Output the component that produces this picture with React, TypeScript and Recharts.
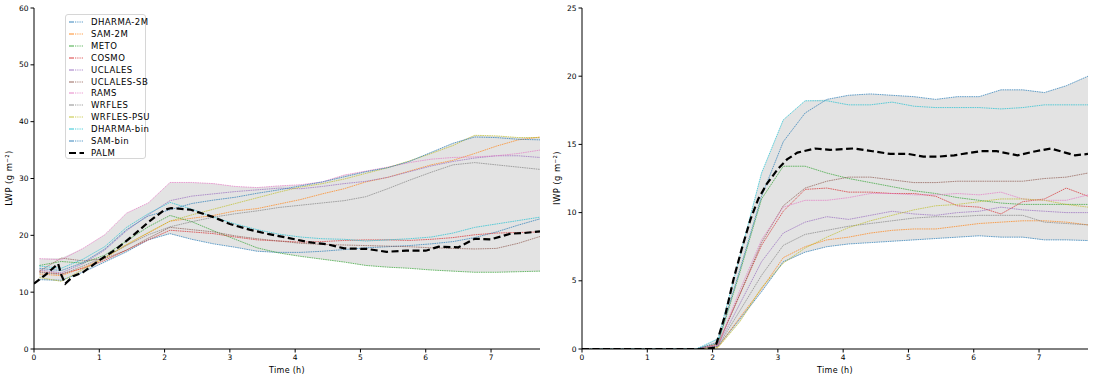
import React from 'react';
import { ComposedChart, Line, Area, XAxis, YAxis } from 'recharts';

const TIMES = [0.083, 0.417, 0.75, 1.083, 1.417, 1.75, 2.083, 2.417, 2.75, 3.083, 3.417, 3.75, 4.083, 4.417, 4.75, 5.083, 5.417, 5.75, 6.083, 6.417, 6.75, 7.083, 7.417, 7.75];

const MODELS = ['DHARMA-2M', 'SAM-2M', 'METO', 'COSMO', 'UCLALES', 'UCLALES-SB', 'RAMS', 'WRFLES', 'WRFLES-PSU', 'DHARMA-bin', 'SAM-bin'];
const COLORS = ['#1f77b4', '#ff7f0e', '#2ca02c', '#d62728', '#9467bd', '#8c564b', '#e377c2', '#7f7f7f', '#bcbd22', '#17becf', '#1f77b4'];

// LWP (g m-2)
const LWP_DHARMA_2M = [12.2, 12.1, 13.5, 15.3, 17.1, 19.2, 20.3, 19.3, 18.5, 17.9, 17.2, 17.0, 17.0, 17.2, 17.5, 17.8, 18.0, 18.2, 18.5, 18.9, 19.6, 20.6, 21.8, 22.9];
const LWP_SAM_2M = [13.2, 12.9, 14.3, 16.0, 18.3, 20.4, 22.5, 23.0, 23.5, 24.3, 24.7, 25.5, 26.3, 27.3, 28.2, 29.4, 30.2, 31.3, 32.4, 33.2, 34.4, 35.7, 36.8, 37.3];
const LWP_METO = [14.7, 15.4, 15.1, 16.5, 19.0, 21.5, 23.5, 22.4, 20.8, 19.3, 17.8, 16.9, 16.3, 15.8, 15.3, 14.7, 14.4, 14.2, 13.9, 13.7, 13.5, 13.5, 13.6, 13.7];
const LWP_COSMO = [13.6, 13.2, 14.2, 15.6, 17.4, 19.2, 20.9, 20.6, 20.3, 19.7, 19.2, 19.0, 18.8, 18.9, 19.1, 19.2, 19.2, 19.1, 19.3, 19.6, 20.1, 20.4, 20.5, 20.6];
const LWP_UCLALES = [13.9, 13.4, 15.0, 17.4, 20.8, 23.6, 26.1, 26.9, 27.3, 27.7, 28.0, 28.3, 28.2, 28.6, 29.1, 29.5, 30.2, 31.2, 32.2, 33.0, 33.6, 34.0, 34.0, 33.7];
const LWP_UCLALES_SB = [13.7, 16.0, 15.5, 15.9, 17.4, 19.5, 21.4, 21.0, 20.6, 19.9, 19.4, 19.0, 18.6, 18.4, 18.3, 18.2, 18.1, 18.0, 17.8, 17.7, 17.6, 17.7, 18.6, 19.8];
const LWP_RAMS = [15.9, 15.7, 17.7, 20.1, 23.9, 25.7, 29.3, 29.3, 29.1, 28.6, 28.4, 28.7, 28.9, 29.4, 30.6, 31.3, 32.0, 32.8, 33.4, 33.7, 33.8, 34.0, 34.4, 35.0];
const LWP_WRFLES = [13.5, 13.1, 14.6, 16.2, 18.2, 20.1, 21.5, 22.4, 23.2, 23.8, 24.3, 24.9, 25.3, 25.7, 26.1, 26.8, 28.2, 29.7, 31.1, 32.4, 32.8, 32.4, 32.0, 31.6];
const LWP_WRFLES_PSU = [12.6, 11.9, 14.0, 16.0, 18.4, 20.5, 22.5, 23.6, 24.6, 25.6, 26.6, 27.6, 28.5, 29.1, 29.9, 30.9, 31.9, 33.1, 34.4, 35.8, 37.6, 37.5, 37.2, 37.2];
const LWP_DHARMA_BIN = [14.6, 14.2, 15.8, 18.0, 21.4, 23.8, 25.8, 24.6, 23.2, 22.0, 21.0, 20.2, 19.7, 19.4, 19.3, 19.0, 19.2, 19.4, 19.7, 20.4, 21.4, 22.0, 22.6, 23.2];
const LWP_SAM_BIN = [14.2, 13.8, 15.2, 17.6, 21.0, 23.4, 24.5, 25.6, 26.2, 26.7, 27.4, 28.0, 28.7, 29.4, 30.3, 31.2, 31.9, 33.0, 34.6, 36.2, 37.3, 37.2, 36.9, 36.8];

const PALM_LWP_T = [0, 0.17, 0.37, 0.42, 0.48, 0.6, 0.75, 1.0, 1.25, 1.5, 1.75, 2.0, 2.1, 2.4, 2.75, 3.0, 3.3, 3.6, 4.0, 4.2, 4.5, 4.75, 5.1, 5.4, 5.7, 6.0, 6.2, 6.5, 6.75, 7.0, 7.3, 7.5, 7.75];
const PALM_LWP_V = [11.5, 13.0, 15.0, 13.0, 11.5, 12.8, 13.5, 15.6, 17.5, 19.8, 22.3, 24.5, 24.8, 24.5, 23.2, 22.0, 21.0, 20.2, 19.3, 18.8, 18.4, 17.7, 17.6, 17.1, 17.3, 17.3, 18.0, 17.9, 19.4, 19.3, 20.3, 20.4, 20.7];

// IWP (g m-2)
const IWP_DHARMA_2M = [0, 0, 0, 0, 0, 0, 0.2, 2.2, 4.2, 6.4, 7.1, 7.5, 7.7, 7.8, 7.9, 8.0, 8.1, 8.2, 8.3, 8.2, 8.2, 8.0, 8.0, 7.95];
const IWP_SAM_2M = [0, 0, 0, 0, 0, 0, 0.15, 2.3, 4.4, 6.7, 7.5, 8.0, 8.2, 8.5, 8.7, 8.8, 8.8, 9.0, 9.2, 9.3, 9.4, 9.4, 9.3, 9.1];
const IWP_METO = [0, 0, 0, 0, 0, 0, 0.4, 5.6, 11.0, 13.4, 13.4, 12.9, 12.5, 12.2, 11.9, 11.6, 11.4, 11.1, 10.9, 10.7, 10.6, 10.6, 10.6, 10.6];
const IWP_COSMO = [0, 0, 0, 0, 0, 0, 0.35, 4.0, 7.6, 10.1, 11.7, 11.8, 11.5, 11.5, 11.4, 11.4, 11.2, 10.5, 10.4, 9.9, 10.8, 11.0, 11.8, 11.2];
const IWP_UCLALES = [0, 0, 0, 0, 0, 0, 0.25, 3.3, 6.4, 8.5, 9.3, 9.7, 9.5, 9.8, 10.1, 9.9, 9.8, 10.0, 10.1, 10.4, 10.2, 10.1, 10.0, 10.0];
const IWP_UCLALES_SB = [0, 0, 0, 0, 0, 0, 0.3, 4.0, 7.8, 10.5, 11.8, 12.3, 12.6, 12.6, 12.4, 12.2, 12.2, 12.3, 12.3, 12.3, 12.3, 12.5, 12.6, 12.9];
const IWP_RAMS = [0, 0, 0, 0, 0, 0, 0.3, 4.3, 8.0, 10.4, 10.9, 10.9, 11.1, 11.4, 11.4, 11.3, 11.3, 11.4, 11.3, 11.5, 11.0, 10.9, 10.9, 11.3];
const IWP_WRFLES = [0, 0, 0, 0, 0, 0, 0.2, 2.8, 5.4, 7.6, 8.4, 8.7, 9.0, 9.2, 9.4, 9.6, 9.7, 9.7, 9.8, 9.8, 9.8, 9.3, 9.2, 9.1];
const IWP_WRFLES_PSU = [0, 0, 0, 0, 0, 0, 0.1, 2.0, 4.5, 6.3, 7.4, 8.2, 8.9, 9.4, 9.8, 10.2, 10.5, 10.6, 10.8, 11.0, 11.0, 10.9, 10.6, 10.4];
const IWP_DHARMA_BIN = [0, 0, 0, 0, 0, 0, 0.75, 6.8, 12.9, 16.8, 18.2, 18.2, 17.9, 17.9, 18.1, 17.8, 17.7, 17.7, 17.7, 17.6, 17.7, 17.9, 17.9, 17.9];
const IWP_SAM_BIN = [0, 0, 0, 0, 0, 0, 0.5, 5.8, 11.2, 15.2, 17.3, 18.3, 18.6, 18.7, 18.6, 18.5, 18.3, 18.5, 18.5, 19.0, 19.0, 18.8, 19.3, 20.0];

const PALM_IWP_T = [0, 1.0, 1.9, 2.04, 2.2, 2.32, 2.45, 2.58, 2.7, 2.83, 3.0, 3.14, 3.3, 3.57, 3.8, 4.16, 4.45, 4.72, 5.0, 5.23, 5.45, 5.7, 6.1, 6.35, 6.67, 6.95, 7.18, 7.4, 7.55, 7.75];
const PALM_IWP_V = [0, 0, 0, 0.1, 2.6, 5.1, 7.4, 9.5, 11.0, 12.1, 13.2, 13.9, 14.4, 14.7, 14.6, 14.7, 14.5, 14.3, 14.3, 14.1, 14.1, 14.2, 14.5, 14.5, 14.2, 14.5, 14.7, 14.4, 14.2, 14.3];

const X_TICKS = [0, 1, 2, 3, 4, 5, 6, 7];
const LWP_TICKS = [0, 10, 20, 30, 40, 50, 60];
const IWP_TICKS = [0, 5, 10, 15, 20, 25];

const LWP_SERIES = [LWP_DHARMA_2M, LWP_SAM_2M, LWP_METO, LWP_COSMO, LWP_UCLALES, LWP_UCLALES_SB, LWP_RAMS, LWP_WRFLES, LWP_WRFLES_PSU, LWP_DHARMA_BIN, LWP_SAM_BIN];
const IWP_SERIES = [IWP_DHARMA_2M, IWP_SAM_2M, IWP_METO, IWP_COSMO, IWP_UCLALES, IWP_UCLALES_SB, IWP_RAMS, IWP_WRFLES, IWP_WRFLES_PSU, IWP_DHARMA_BIN, IWP_SAM_BIN];

function buildRows(series: number[][]) {
  return TIMES.map((t, i) => {
    const row: any = { t };
    const vals = series.map((s) => s[i]);
    series.forEach((s, k) => { row['m' + k] = s[i]; });
    row.band = [Math.min(...vals), Math.max(...vals)];
    return row;
  });
}

function buildPalm(ts: number[], vs: number[]) {
  return ts.map((t, i) => ({ t, v: vs[i] }));
}

const FONT = 'DejaVu Sans, sans-serif';
const tickStyle = { fill: '#000', fontSize: 7.5, fontFamily: FONT };

function Panel({ series, palmT, palmV, yMax, yTicks, left, ylabel }: any) {
  const rows = buildRows(series);
  const palm = buildPalm(palmT, palmV);
  return (
    <div style={{ position: 'absolute', left, top: 0, width: 548, height: 379 }}>
      <ComposedChart width={548} height={379} data={rows} margin={{ top: 8, right: 8, bottom: 4, left: 8 }}>
        <XAxis dataKey="t" type="number" domain={[0, 7.75]} ticks={X_TICKS} allowDataOverflow
          stroke="#000" tickSize={3.5} tickMargin={2} tick={tickStyle} height={26}
          label={{ value: 'Time (h)', position: 'insideBottom', offset: 2, fill: '#000', fontSize: 8, fontFamily: FONT, letterSpacing: 0.3 }} />
        <XAxis xAxisId="top" orientation="top" dataKey="t" type="number" domain={[0, 7.75]} height={0}
          tick={false} tickLine={false} stroke="#000" />
        <YAxis type="number" domain={[0, yMax]} ticks={yTicks} allowDataOverflow stroke="#000"
          tickSize={3.5} tickMargin={2} tick={tickStyle} width={26} />
        <YAxis yAxisId="right" orientation="right" type="number" domain={[0, yMax]} width={0}
          tick={false} tickLine={false} stroke="#000" />
        <Area dataKey="band" type="linear" stroke="none" fill="#e3e3e3" fillOpacity={1} isAnimationActive={false} />
        {MODELS.map((m, k) => (
          <Line key={m} dataKey={'m' + k} type="linear" stroke={COLORS[k]} strokeWidth={0.8} strokeOpacity={0.85}
            strokeDasharray="1.6 0.7" dot={false} isAnimationActive={false} />
        ))}
        <Line data={palm} dataKey="v" type="linear" stroke="#000" strokeWidth={2.2}
          strokeDasharray="7 3.5" dot={false} isAnimationActive={false} />
      </ComposedChart>
      <div style={{ position: 'absolute', left: 9, top: 178, width: 0, height: 0 }}>
        <div style={{ position: 'absolute', transform: 'translate(-50%, -50%) rotate(-90deg)', whiteSpace: 'nowrap', fontFamily: FONT, fontSize: 8.5, letterSpacing: 0.4, color: '#000' }}>
          {ylabel}
        </div>
      </div>
    </div>
  );
}

function LegendBox() {
  const items = MODELS.map((m, k) => ({ name: m, color: COLORS[k], palm: false }));
  items.push({ name: 'PALM', color: '#000', palm: true });
  return (
    <div style={{ position: 'absolute', left: 65, top: 14, width: 81, height: 145, border: '1px solid #d6d6d6', borderRadius: 3, background: 'rgba(255,255,255,0.85)', boxSizing: 'border-box' }}>
      {items.map((it, i) => (
        <div key={it.name} style={{ position: 'absolute', left: 0, top: 1 + i * 11.9, height: 12, width: 80 }}>
          <svg width={18} height={12} style={{ position: 'absolute', left: 2, top: 0 }}>
            {it.palm ? (
              <line x1={1} y1={6} x2={16} y2={6} stroke="#000" strokeWidth={2.2} strokeDasharray="7 3.5" />
            ) : (
              <g>
                <line x1={1} y1={6} x2={5} y2={6} stroke={it.color} strokeWidth={0.9} />
                <line x1={5} y1={6} x2={16} y2={6} stroke={it.color} strokeWidth={0.9} strokeDasharray="1 1.2" />
              </g>
            )}
          </svg>
          <span style={{ position: 'absolute', left: 25, top: 0, lineHeight: '12px', fontSize: 8.5, letterSpacing: 0.45, fontFamily: FONT, color: '#000', whiteSpace: 'nowrap' }}>{it.name}</span>
        </div>
      ))}
    </div>
  );
}

export default function App() {
  return (
    <div style={{ position: 'absolute', left: 0, top: 0, width: 1096, height: 379, background: '#fff', overflow: 'hidden' }}>
      <Panel series={LWP_SERIES} palmT={PALM_LWP_T} palmV={PALM_LWP_V} yMax={60} yTicks={LWP_TICKS} left={0} ylabel="LWP (g m⁻²)" />
      <Panel series={IWP_SERIES} palmT={PALM_IWP_T} palmV={PALM_IWP_V} yMax={25} yTicks={IWP_TICKS} left={548} ylabel="IWP (g m⁻²)" />
      <LegendBox />
    </div>
  );
}
